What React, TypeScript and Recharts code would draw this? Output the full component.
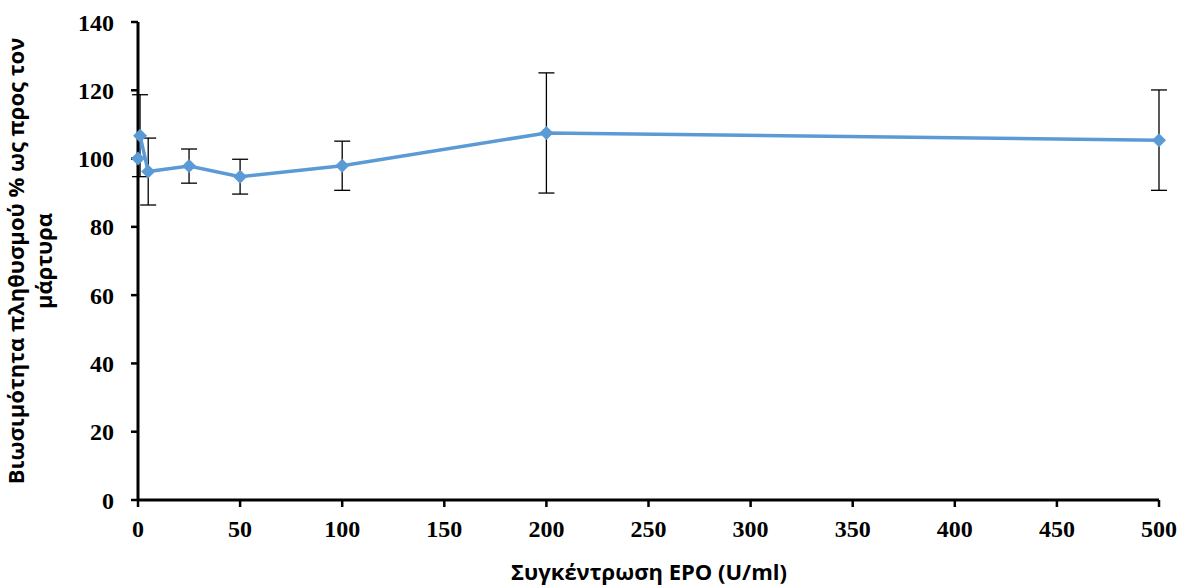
import { LineChart, Line, XAxis, YAxis, ErrorBar } from 'recharts';

// συγκέντρωση EPO (U/ml)
const epoDoses = [0, 1, 5, 25, 50, 100, 200, 500];
// βιωσιμότητα % ως προς τον μάρτυρα
const viability = [100, 106.7, 96.2, 97.8, 94.7, 97.9, 107.5, 105.4];
// τυπική απόκλιση
const viabilitySd = [0, 12, 9.8, 5, 5.1, 7.2, 17.6, 14.7];

const xTicks = [0, 50, 100, 150, 200, 250, 300, 350, 400, 450, 500];
const yTicks = [0, 20, 40, 60, 80, 100, 120, 140];

const yTitleLines = ['Βιωσιμότητα πληθυσμού % ως προς τον', 'μάρτυρα'];
const xTitle = 'Συγκέντρωση EPO (U/ml)';

const data = epoDoses.map((x, i) => ({ x, v: viability[i], sd: viabilitySd[i] }));

const tickStyle = {
  fontFamily: '"Liberation Serif", "Times New Roman", serif',
  fontWeight: 700,
  fontSize: 24,
  fill: '#000',
};
const titleFont = '"Open Sans", "Noto Sans", sans-serif';

function Diamond(props: any) {
  const { cx, cy } = props;
  if (cx == null || cy == null) return null;
  const r = 7;
  return (
    <polygon
      points={`${cx},${cy - r} ${cx + r},${cy} ${cx},${cy + r} ${cx - r},${cy}`}
      fill="#5B9BD5"
    />
  );
}

function YTitle() {
  const cx = 24;
  const cy = 261;
  return (
    <text
      transform={`rotate(-90, ${cx}, ${cy})`}
      x={cx}
      y={cy}
      textAnchor="middle"
      fontFamily={titleFont}
      fontWeight={700}
      fontSize={22}
      fill="#000"
    >
      <tspan x={cx} dy={0}>{yTitleLines[0]}</tspan>
      <tspan x={cx} dy={28}>{yTitleLines[1]}</tspan>
    </text>
  );
}

function XTitle() {
  return (
    <text
      x={649}
      y={580}
      textAnchor="middle"
      fontFamily={titleFont}
      fontWeight={700}
      fontSize={22}
      fill="#000"
    >
      {xTitle}
    </text>
  );
}

export default function App() {
  return (
    <div style={{ position: 'absolute', left: 0, top: 0, background: '#fff' }}>
      <LineChart
        width={1185}
        height={586}
        data={data}
        margin={{ top: 22, right: 26, bottom: 0, left: 68 }}
      >
        <XAxis
          dataKey="x"
          type="number"
          domain={[0, 500]}
          ticks={xTicks}
          interval={0}
          height={86}
          axisLine={{ stroke: '#000', strokeWidth: 3 }}
          tickLine={{ stroke: '#000', strokeWidth: 2.5 }}
          tickSize={7}
          tick={tickStyle}
          tickMargin={13}
          label={{ content: () => <XTitle /> }}
        />
        <YAxis
          type="number"
          domain={[0, 140]}
          ticks={yTicks}
          interval={0}
          width={70}
          axisLine={{ stroke: '#000', strokeWidth: 3 }}
          tickLine={{ stroke: '#000', strokeWidth: 2.5 }}
          tickSize={7}
          tick={tickStyle}
          tickMargin={17}
          label={{ content: () => <YTitle /> }}
        />
        <Line
          type="linear"
          dataKey="v"
          stroke="#5B9BD5"
          strokeWidth={3.5}
          dot={<Diamond />}
          activeDot={false}
          isAnimationActive={false}
        >
          <ErrorBar dataKey="sd" direction="y" width={8} stroke="#000" strokeWidth={1.3} />
        </Line>
      </LineChart>
    </div>
  );
}
